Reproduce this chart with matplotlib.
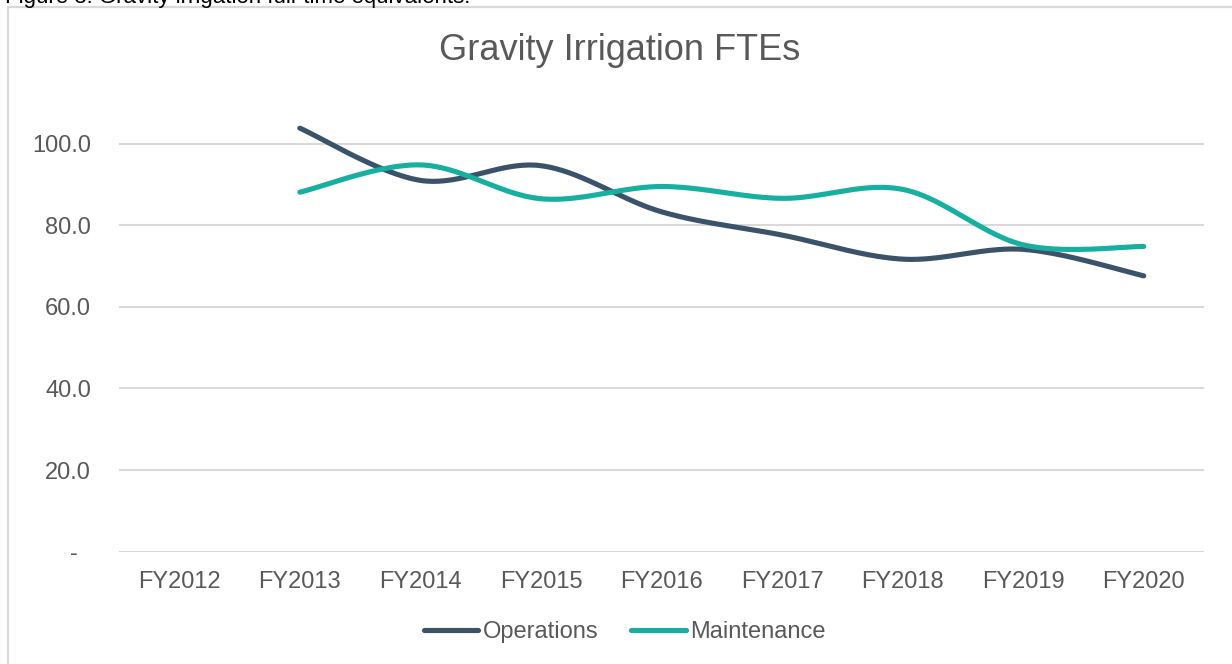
import numpy as np
import matplotlib
matplotlib.use("Agg")
import matplotlib.pyplot as plt
from matplotlib.patches import Rectangle
from matplotlib.ticker import FuncFormatter

plt.rcParams['font.family'] = ['Liberation Sans', 'DejaVu Sans']

# data
years = ["FY2012", "FY2013", "FY2014", "FY2015", "FY2016",
         "FY2017", "FY2018", "FY2019", "FY2020"]
operations = [np.nan, 103.8, 91.0, 94.6, 83.3, 77.6, 71.7, 74.1, 67.6]
maintenance = [np.nan, 88.1, 94.8, 86.5, 89.5, 86.6, 88.8, 75.2, 74.8]

ops_color = "#3b5369"
mnt_color = "#17b0a0"
grey_text = "#595959"
grid_color = "#d9d9d9"


def smooth(xs, ys, n=40):
    # excel-like smoothed line: cubic bezier segments, catmull-rom control points
    xs = np.asarray(xs, float)
    ys = np.asarray(ys, float)
    m = ~np.isnan(ys)
    xs, ys = xs[m], ys[m]
    px = np.concatenate([[xs[0]], xs, [xs[-1]]])
    py = np.concatenate([[ys[0]], ys, [ys[-1]]])
    outx, outy = [], []
    t = np.linspace(0, 1, n)
    for i in range(1, len(px) - 2):
        x0, y0 = px[i], py[i]
        x3, y3 = px[i + 1], py[i + 1]
        x1 = x0 + (px[i + 1] - px[i - 1]) / 6
        y1 = y0 + (py[i + 1] - py[i - 1]) / 6
        x2 = x3 - (px[i + 2] - px[i]) / 6
        y2 = y3 - (py[i + 2] - py[i]) / 6
        b = [(1 - t) ** 3, 3 * (1 - t) ** 2 * t, 3 * (1 - t) * t ** 2, t ** 3]
        outx.append(b[0] * x0 + b[1] * x1 + b[2] * x2 + b[3] * x3)
        outy.append(b[0] * y0 + b[1] * y1 + b[2] * y2 + b[3] * y3)
    return np.concatenate(outx), np.concatenate(outy)


fig = plt.figure(figsize=(12.32, 6.64), dpi=100)
ax = fig.add_axes([0.0966, 0.1691, 0.8807, 0.676])

x = np.arange(len(years))
sx, sy = smooth(x, operations)
ax.plot(sx, sy, color=ops_color, lw=3.7, solid_capstyle='round', label="Operations")
sx, sy = smooth(x, maintenance)
ax.plot(sx, sy, color=mnt_color, lw=3.7, solid_capstyle='round', label="Maintenance")

ax.set_xlim(-0.5, len(years) - 0.5)
ax.set_ylim(0, 110)
ax.set_yticks([0, 20, 40, 60, 80, 100])
ax.yaxis.set_major_formatter(FuncFormatter(lambda v, p: "-  " if v == 0 else f"{v:.1f}"))
ax.set_xticks(x)
ax.set_xticklabels(years)
ax.grid(axis='y', color=grid_color, lw=1.5)
ax.set_axisbelow(True)
for s in ax.spines.values():
    s.set_visible(False)
ax.tick_params(axis='both', length=0, labelsize=17, colors=grey_text)
ax.tick_params(axis='y', pad=20)
ax.tick_params(axis='x', pad=14)

fig.text(0.503, 1 - 50 / 664, "Gravity Irrigation FTEs", ha='center', va='center',
         fontsize=26, color=grey_text)

leg = fig.legend(loc='center', bbox_to_anchor=(0.507, 1 - 632 / 664), ncol=2,
                 frameon=False, fontsize=17, handlelength=2.3, handletextpad=0.2,
                 columnspacing=1.4)
for t in leg.get_texts():
    t.set_color(grey_text)

# caption above the chart box (cut off by the page edge, as in the source), and the box border
fig.text(0.004, 1 - 3 / 664, "Figure 8: Gravity irrigation full-time equivalents.",
         ha='left', va='baseline', fontsize=16, color="black")
fig.patches.append(Rectangle((8 / 1232, -0.05), 1.1, 1 - 7 / 664 + 0.05,
                             transform=fig.transFigure, fill=False,
                             edgecolor=grid_color, lw=1.6))

fig.savefig("out.png", dpi=100)
